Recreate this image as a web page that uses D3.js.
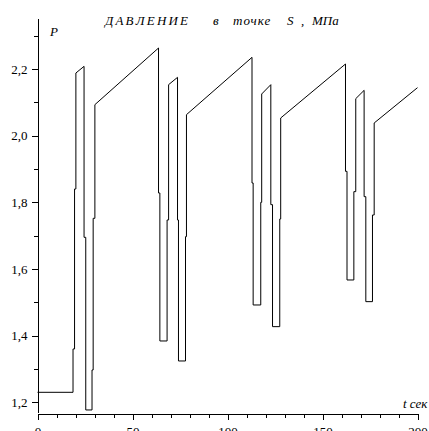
<!DOCTYPE html>
<html>
<head>
<meta charset="utf-8">
<script src="https://cdn.jsdelivr.net/npm/d3@7"></script>
<style>
  body { margin: 0; background: #fff; }
  svg { display: block; }
  .tick text { font-family: "Liberation Serif", serif; font-size: 13px; fill: #000; }
  .lbl { font-family: "Liberation Serif", serif; font-style: italic; font-size: 13px; fill: #000; }
</style>
</head>
<body>
<div id="chart"></div>
<script>
// time, s
var time = [0, 18.7, 18.7, 19.5, 19.5, 20.2, 20.2, 24.5, 24.5, 25.4, 25.4, 28.7, 28.7, 29.3, 29.3, 30.2, 30.2,
  63.7, 63.7, 64.4, 64.4, 68.2, 68.2, 69.0, 69.0, 73.7, 73.7, 74.2, 74.2, 77.9, 77.9, 78.4, 78.4,
  112.9, 112.9, 113.5, 113.5, 117.5, 117.5, 118.0, 118.0, 122.8, 122.8, 123.7, 123.7, 127.5, 127.5, 128.0, 128.0,
  162.1, 162.1, 162.9, 162.9, 166.5, 166.5, 167.5, 167.5, 171.9, 171.9, 172.8, 172.8, 176.3, 176.3, 177.2, 177.2,
  200];
// pressure, MPa
var pressure = [1.23, 1.23, 1.36, 1.36, 1.84, 1.84, 2.188, 2.208, 1.695, 1.695, 1.177, 1.177, 1.297, 1.297, 1.752, 1.752, 2.093,
  2.263, 1.828, 1.828, 1.384, 1.384, 1.747, 1.747, 2.153, 2.175, 1.747, 1.747, 1.324, 1.324, 1.697, 1.697, 2.063,
  2.235, 1.858, 1.858, 1.492, 1.492, 1.80, 1.80, 2.125, 2.153, 1.793, 1.793, 1.427, 1.427, 1.75, 1.75, 2.053,
  2.215, 1.893, 1.893, 1.567, 1.567, 1.832, 1.832, 2.111, 2.136, 1.817, 1.817, 1.502, 1.502, 1.762, 1.762, 2.038,
  2.144];

var xMajor = [0, 50, 100, 150, 200];
var xMinor = [10, 20, 30, 40, 60, 70, 80, 90, 110, 120, 130, 140, 160, 170, 180, 190];
var yMajor = [1.2, 1.4, 1.6, 1.8, 2.0, 2.2];
var yMinor = [1.3, 1.5, 1.7, 1.9, 2.1, 2.3];

var W = 429, H = 431;

var svg = d3.select("#chart").append("svg")
    .attr("width", W).attr("height", H);

var x = d3.scaleLinear().domain([0, 200]).range([37.5, 417.5]);
var y = d3.scaleLinear().domain([1.2, 2.2]).range([402.3, 69]);
var yTop = 2.353, yBot = 1.168;
var yAxisScale = y.copy().domain([yBot, yTop]).range([y(yBot), y(yTop)]);

var fmt = function(d){ return d3.format(".1f")(d).replace(".", ","); };

// y axis
var gy = svg.append("g").attr("transform", "translate(37.5,0)").attr("shape-rendering", "crispEdges");
gy.call(d3.axisLeft(yAxisScale).tickValues(yMajor).tickSize(6).tickSizeOuter(0).tickPadding(4).tickFormat(fmt));
gy.append("g").call(d3.axisLeft(yAxisScale).tickValues(yMinor).tickSize(4).tickSizeOuter(0).tickFormat(""))
  .select(".domain").remove();

// x axis
var gx = svg.append("g").attr("transform", "translate(0," + Math.round(y(yBot)) + ".5)").attr("shape-rendering", "crispEdges");
gx.call(d3.axisBottom(x).tickValues(xMajor).tickSize(6).tickSizeOuter(0).tickPadding(7).tickFormat(d3.format("d")));
gx.append("g").call(d3.axisBottom(x).tickValues(xMinor).tickSize(4).tickSizeOuter(0).tickFormat(""))
  .select(".domain").remove();

svg.selectAll(".domain, .tick line").attr("stroke", "#000");

// curve
var pts = time.map(function(t, i){ return [t, pressure[i]]; });
var line = d3.line().x(function(d){ return x(d[0]); }).y(function(d){ return y(d[1]); });
svg.append("path").datum(pts)
  .attr("d", line)
  .attr("fill", "none")
  .attr("stroke", "#000")
  .attr("stroke-width", 1);

// title
var title = svg.append("text").attr("class", "lbl").attr("y", 25);
title.append("tspan").attr("x", 105).attr("letter-spacing", "2.2px").text("ДАВЛЕНИЕ");
title.append("tspan").attr("x", 213).text("в");
title.append("tspan").attr("x", 233).attr("letter-spacing", "1px").text("точке");
title.append("tspan").attr("x", 287).text("S");
title.append("tspan").attr("x", 301).text(",");
title.append("tspan").attr("x", 312).text("МПа");

svg.append("text").attr("class", "lbl").attr("x", 50).attr("y", 36).text("P");
svg.append("text").attr("class", "lbl").attr("x", 403).attr("y", 408).text("t сек");
</script>
</body>
</html>
